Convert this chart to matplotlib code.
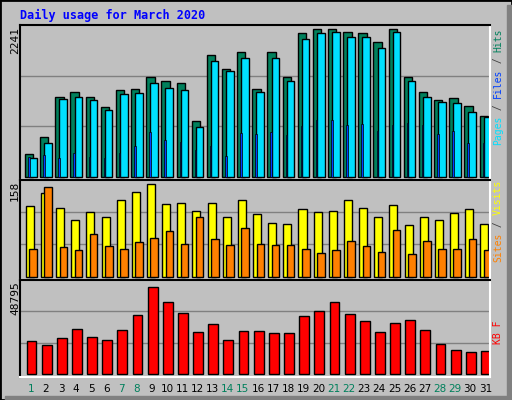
import matplotlib
matplotlib.use("Agg")
import matplotlib.pyplot as plt
import numpy as np

days = list(range(1, 32))
hits = [332,589,1178,1252,1178,1030,1287,1297,1475,1420,1386,822,1802,1594,1836,1297,
        1846,1475,2118,2177,2187,2133,2128,1995,2187,1475,1252,1138,1163,1045,896]
files = [273,496,1149,1178,1134,985,1223,1238,1386,1312,1282,733,1712,1564,1757,1252,
         1757,1416,2039,2128,2143,2069,2069,1906,2143,1416,1178,1104,1089,956,881]
pages = [290,318,273,347,288,273,347,451,659,540,511,392,451,303,644,629,
         659,614,748,837,837,763,778,674,763,793,763,629,674,496,496]
visits = [115,136,113,92,105,97,125,138,151,118,120,108,121,97,126,102,
          87,86,110,105,108,125,112,97,117,84,97,92,104,110,86]
sites = [45,146,48,43,69,50,46,56,63,74,54,97,61,51,79,54,
         51,51,46,38,43,58,50,41,77,37,58,45,45,61,43]
kbytes = [17635,15580,19175,24312,19689,18148,23798,32016,46911,38693,33043,22771,26880,18148,23284,23284,
          22257,22257,31502,34070,38693,32530,28421,22771,27393,28934,23798,16094,13012,11985,12498]
weekend = {1,7,8,14,15,21,22,28,29}
max_hits, max_visits, max_kb = 2241, 158, 48795

C_HITS, C_FILES, C_PAGES = "#00805C", "#00E0FF", "#0040FF"
C_VIS, C_SITES, C_KB = "#FFFF00", "#FF8000", "#FF0000"
BG = "#C0C0C0"

W, H = 512, 400
fig = plt.figure(figsize=(W/100, H/100), dpi=100, facecolor=BG)
# outer border / shadow
fig.patches.append(plt.Rectangle((0, 0), 1, 1, transform=fig.transFigure, fill=False,
                                 edgecolor="black", lw=2))
fig.patches.append(plt.Rectangle((1-5/W, 0), 5/W, 1-5/H, transform=fig.transFigure,
                                 color="#808080"))
fig.patches.append(plt.Rectangle((5/W, 0), 1-5/W, 4/H, transform=fig.transFigure,
                                 color="#808080"))

def mkax(top, bot):
    ax = fig.add_axes([20/W, 1-bot/H, 470/W, (bot-top)/H], facecolor=BG)
    ax.set_xlim(-0.33, 30.69)
    for s in ("top", "left"):
        ax.spines[s].set_color("black")
    for s in ("bottom", "right"):
        ax.spines[s].set_color("white")
    for s in ax.spines.values():
        s.set_linewidth(1.5)
    ax.set_xticks([]); ax.set_yticks([])
    return ax

x = np.arange(31)
kw = dict(edgecolor="black", linewidth=1, align="edge")

ax1 = mkax(25, 180)
ax1.set_ylim(-0.022*max_hits, max_hits)
for g in (1/3, 2/3):
    ax1.axhline(max_hits*g, color="#808080", lw=1, zorder=0)
ax1.bar(x, hits, width=0.55, color=C_HITS, **kw)
ax1.bar(x+0.27, files, width=0.5, color=C_FILES, **kw)
ax1.bar(x+0.2, pages, width=0.1, color=C_PAGES, edgecolor="black", linewidth=0.5, align="edge")

ax2 = mkax(180, 280)
ax2.set_ylim(-0.034*max_visits, max_visits)
for g in (1/3, 2/3):
    ax2.axhline(max_visits*g, color="#808080", lw=1, zorder=0)
ax2.bar(x+0.05, visits, width=0.53, color=C_VIS, **kw)
ax2.bar(x+0.28, sites, width=0.5, color=C_SITES, **kw)

ax3 = mkax(280, 377)
ax3.set_ylim(-0.035*max_kb, max_kb*1.04)
for g in (1/3, 2/3):
    ax3.axhline(max_kb*1.04*g, color="#808080", lw=1, zorder=0)
ax3.bar(x+0.1, kbytes, width=0.65, color=C_KB, **kw)

mono = "DejaVu Sans Mono"
fig.text(20/W, 1-15/H, "Daily usage for March 2020", color="#0000FF", fontsize=8.5,
         fontweight="bold", family=mono, va="center")

for top, lab in ((27, str(max_hits)), (181, str(max_visits)), (281, str(max_kb))):
    fig.text(15/W, 1-top/H, lab, rotation=90, fontsize=8, va="top", ha="center", family=mono)

def right_label(top, parts, size=7):
    off = 0
    for txt, col in parts:
        fig.text(498/W, 1-(top+off)/H, txt, rotation=90, fontsize=size, color=col,
                 family=mono, va="top", ha="center")
        off += len(txt)*0.6*size*100/72

right_label(28, [("Hits", C_HITS), (" / ", "#404040"), ("Files", C_PAGES),
                 (" / ", "#404040"), ("Pages", C_FILES)])
right_label(180, [("Visits", C_VIS), (" / ", "#404040"), ("Sites", C_SITES)])
right_label(320, [("KB F", C_KB)])

for i, d in enumerate(days):
    px = 20 + (i + 0.33 + 0.38) * 470/31.02
    fig.text(px/W, 1-389/H, str(d), ha="center", va="center", fontsize=7.5,
             color=C_HITS if d in weekend else "black")

fig.savefig("out.png", dpi=100, facecolor=BG)
